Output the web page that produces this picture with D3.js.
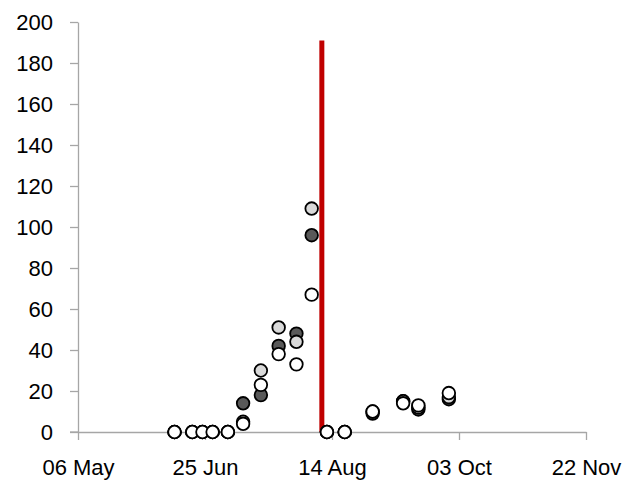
<!DOCTYPE html>
<html>
<head>
    <meta charset="utf-8" />
    <title>Counts by date</title>
    <style>
    	body { margin: 0; background: #fff; }
    	svg text { font-family: "Liberation Sans", Arial, sans-serif; }
    </style>
</head>
<body>
<script src="https://d3js.org/d3.v7.min.js"></script>
<script>
    // sample dates (same for all three series)
    var dates = ["2010-06-13", "2010-06-20", "2010-06-24", "2010-06-28", "2010-07-04",
                 "2010-07-10", "2010-07-17", "2010-07-24", "2010-07-31", "2010-08-06",
                 "2010-08-12", "2010-08-19", "2010-08-30", "2010-09-11", "2010-09-17",
                 "2010-09-29"];

    var darkValues  = [0, 0, 0, 0, 0, 14, 18, 42, 48, 96, 0, 0, 9, 15, 11, 16];
    var lightValues = [0, 0, 0, 0, 0, 5, 30, 51, 44, 109, 0, 0, 10, 15, 12, 17];
    var whiteValues = [0, 0, 0, 0, 0, 4, 23, 38, 33, 67, 0, 0, 10, 14, 13, 19];

    var markerDate = "2010-08-10";
    var markerTop = 191;

    var xTicks = ["2010-05-06", "2010-06-25", "2010-08-14", "2010-10-03", "2010-11-22"];
    var yTicks = [0, 20, 40, 60, 80, 100, 120, 140, 160, 180, 200];

	var margin = {"left": 78, "right": 39, "top": 22, "bottom": 50};
	var width = 625;
	var height = 482;
	var parse = d3.timeParse("%Y-%m-%d");

	var svg = d3.select("body").append("svg")
				.attr("width", width)
				.attr("height", height);

	var xScaler = d3.scaleTime()
					.domain([parse(xTicks[0]), parse(xTicks[xTicks.length - 1])])
					.range([margin.left, width - margin.right]);

	var yScaler = d3.scaleLinear()
					.domain([0, 200])
					.range([height - margin.bottom, margin.top]);

	var xAxis = d3.axisBottom(xScaler)
				  .tickValues(xTicks.map(parse))
				  .tickFormat(d3.timeFormat("%d %b"))
				  .tickSize(8)
				  .tickSizeOuter(0)
				  .tickPadding(19);

	var yAxis = d3.axisLeft(yScaler)
				  .tickValues(yTicks)
				  .tickSize(8)
				  .tickSizeOuter(0)
				  .tickPadding(17);

	var xg = svg.append("g")
	   .attr("transform", "translate(0," + (height - margin.bottom) + ")")
	   .call(xAxis);

	var yg = svg.append("g")
	   .attr("transform", "translate(" + margin.left + ",0)")
	   .call(yAxis);

	// left tick extends the x axis line a little
	svg.append("line")
	   .attr("x1", margin.left - 8).attr("x2", margin.left)
	   .attr("y1", yScaler(0)).attr("y2", yScaler(0))
	   .attr("stroke", "#a6a6a6").attr("stroke-width", 1.3);

	[xg, yg].forEach(function(g){
		g.selectAll("path, line").attr("stroke", "#a6a6a6").attr("stroke-width", 1.3);
		g.selectAll("text").attr("fill", "#000").style("font-size", "22px")
		 .style("font-family", "'Liberation Sans', Arial, sans-serif");
	});

	// red marker line
	svg.append("line")
	   .attr("x1", xScaler(parse(markerDate)))
	   .attr("x2", xScaler(parse(markerDate)))
	   .attr("y1", yScaler(0))
	   .attr("y2", yScaler(markerTop))
	   .attr("stroke", "#c00000")
	   .attr("stroke-width", 5);

	var series = [
		{values: darkValues, fill: "#595959"},
		{values: lightValues, fill: "#d9d9d9"},
		{values: whiteValues, fill: "#ffffff"}
	];

	series.forEach(function(s){
		svg.append("g")
		   .selectAll("circle")
		   .data(s.values)
		   .enter().append("circle")
		   .attr("cx", (d, i) => xScaler(parse(dates[i])))
		   .attr("cy", d => yScaler(d))
		   .attr("r", 6.3)
		   .attr("fill", s.fill)
		   .attr("stroke", "#000")
		   .attr("stroke-width", 1.8);
	});
</script>
</body>
</html>
